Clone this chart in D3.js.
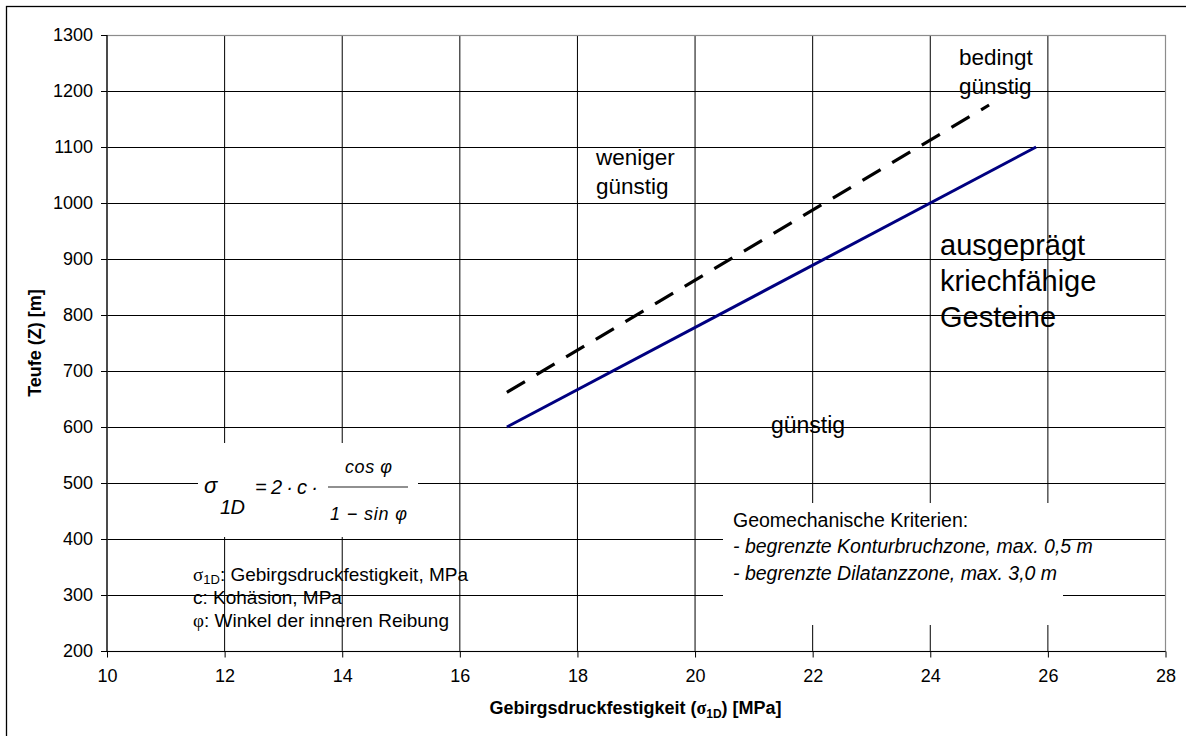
<!DOCTYPE html>
<html><head><meta charset="utf-8">
<script src="https://cdn.jsdelivr.net/npm/d3@7"></script>
<style>
body{margin:0;background:#fff}
svg{display:block}
text{font-family:"Liberation Sans",Arial,sans-serif;fill:#000}
</style>
</head><body>
<svg id="chart" width="1186" height="736"></svg>
<script>
// ---- data ----
const xTicks = [10, 12, 14, 16, 18, 20, 22, 24, 26, 28];
const yTicks = [200, 300, 400, 500, 600, 700, 800, 900, 1000, 1100, 1200, 1300];
const solidX = [16.8, 25.8];
const solidY = [600, 1100];
const dashX = [16.8, 25.0];
const dashY = [662, 1175];
const xTitle = ["Gebirgsdruckfestigkeit (", "σ", "1D", ") [MPa]"];
const yTitle = "Teufe (Z) [m]";
const labelWeniger = ["weniger", "günstig"];
const labelBedingt = ["bedingt", "günstig"];
const labelGuenstig = "günstig";
const labelKriech = ["ausgeprägt", "kriechfähige", "Gesteine"];
const critLines = ["Geomechanische Kriterien:", "- begrenzte Konturbruchzone, max. 0,5 m", "- begrenzte Dilatanzzone, max. 3,0 m"];
const legendLines = [["σ", "1D", ": Gebirgsdruckfestigkeit, MPa"], ["", "", "c: Kohäsion, MPa"], ["φ", "", ": Winkel der inneren Reibung"]];

// ---- setup ----
const svg = d3.select("#chart");
const x = d3.scaleLinear().domain([10, 28]).range([107, 1165.5]);
const y = d3.scaleLinear().domain([200, 1300]).range([651, 35]);
const L = x.range()[0], R = x.range()[1], T = y.range()[1], B = y.range()[0];

// outer border (only left/top visible)
svg.append("rect").attr("x", 6.5).attr("y", 6.5).attr("width", 1300).attr("height", 900)
  .attr("fill", "#fff").attr("stroke", "#000").attr("stroke-width", 1.3);

// gridlines
const g = svg.append("g");
g.selectAll("line.h").data(yTicks.filter(d => d !== 1300 && d !== 200)).join("line")
  .attr("x1", L).attr("x2", R)
  .attr("y1", d => Math.round(y(d)) + 0.5).attr("y2", d => Math.round(y(d)) + 0.5)
  .attr("stroke", "#000").attr("stroke-width", 1);
g.selectAll("line.v").data(xTicks.filter(d => d !== 10 && d !== 28)).join("line")
  .attr("y1", T).attr("y2", B)
  .attr("x1", d => x(d)).attr("x2", d => x(d))
  .attr("stroke", "#000").attr("stroke-width", 1);

// plot border (gray)
svg.append("rect").attr("x", L).attr("y", Math.round(T) + 0.5).attr("width", R - L).attr("height", B - T)
  .attr("fill", "none").attr("stroke", "#8c8c8c").attr("stroke-width", 1.2);

// white boxes covering gridlines
svg.append("rect").attr("x", 198).attr("y", 443).attr("width", 220).attr("height", 94).attr("fill", "#fff");
svg.append("rect").attr("x", 723).attr("y", 503).attr("width", 340).attr("height", 122).attr("fill", "#fff");

// data lines
const lineGen = d3.line().x(d => x(d[0])).y(d => y(d[1]));
svg.append("path").datum(solidX.map((v, i) => [v, solidY[i]]))
  .attr("d", lineGen).attr("fill", "none").attr("stroke", "#000080").attr("stroke-width", 3);
svg.append("path").datum(dashX.map((v, i) => [v, dashY[i]]))
  .attr("d", lineGen).attr("fill", "none").attr("stroke", "#000").attr("stroke-width", 3.2)
  .attr("stroke-dasharray", "21,13.5");

// axes
const yAxis = svg.append("g").attr("transform", `translate(${L},0)`)
  .call(d3.axisLeft(y).tickValues(yTicks).tickSize(6).tickPadding(8).tickFormat(d3.format("d")));
const xAxis = svg.append("g").attr("transform", `translate(0,${Math.round(B) + 0.5})`)
  .call(d3.axisBottom(x).tickValues(xTicks).tickSize(6).tickPadding(12).tickFormat(d3.format("d")));
[yAxis, xAxis].forEach(a => {
  a.select(".domain").attr("stroke", "#000").attr("stroke-width", 1.2);
  a.selectAll(".tick line").attr("stroke", "#000");
  a.selectAll(".tick text").attr("font-size", 18).attr("font-family", '"Liberation Sans",Arial,sans-serif').attr("fill", "#000");
});
xAxis.select(".domain").attr("d", `M${L},0H${R}`);
yAxis.select(".domain").attr("d", `M0,${B}V${T}`);

// axis titles
const xt = svg.append("text").attr("x", 635.5).attr("y", 714).attr("text-anchor", "middle")
  .attr("font-weight", "bold").attr("font-size", 18);
xt.append("tspan").text(xTitle[0]);
xt.append("tspan").text(xTitle[1]).attr("font-family", '"Liberation Serif",serif');
xt.append("tspan").text(xTitle[2]).attr("font-size", 12).attr("dy", 4);
xt.append("tspan").text(xTitle[3]).attr("dy", -4);

svg.append("text").attr("transform", "translate(41,343) rotate(-90)").attr("text-anchor", "middle")
  .attr("font-weight", "bold").attr("font-size", 18).text(yTitle);

// region labels
function block(lines, x0, y0, dy, size) {
  const t = svg.append("text").attr("font-size", size);
  lines.forEach((s, i) => t.append("tspan").attr("x", x0).attr("y", y0 + i * dy).text(s));
  return t;
}
block(labelWeniger, 596, 165, 28.5, 22.5);
block(labelBedingt, 959, 65, 29, 22.5);
block([labelGuenstig], 771, 433, 0, 23);
block(labelKriech, 940, 255, 36, 29);

// criteria box text
const ct = svg.append("text").attr("font-size", 19.5);
critLines.forEach((s, i) => ct.append("tspan").attr("x", 733).attr("y", 527 + i * 26.3)
  .attr("font-style", i === 0 ? "normal" : "italic").text(s));

// legend text bottom left
legendLines.forEach((parts, i) => {
  const t = svg.append("text").attr("x", 193).attr("y", 581 + i * 23).attr("font-size", 19);
  if (parts[0]) t.append("tspan").attr("font-family", '"Liberation Serif",serif').attr("font-size", 19).text(parts[0]);
  if (parts[1]) {
    t.append("tspan").attr("font-size", 13).attr("dy", 3).text(parts[1]);
    t.append("tspan").attr("dy", -3).text(parts[2]);
  } else t.append("tspan").text(parts[2]);
});

// formula
const ff = '"Liberation Serif","Times New Roman",serif';
const fg = svg.append("g");
function ftext(str, x0, y0, size, anchor, len) {
  const t = fg.append("text").attr("x", x0).attr("y", y0).attr("font-size", size)
    .attr("font-family", ff).attr("font-style", "italic").attr("fill", "#222")
    .attr("text-anchor", anchor || "start").text(str);
  if (len) t.attr("textLength", len).attr("lengthAdjust", "spacing");
  return t;
}
ftext("σ", 204, 493, 22);
ftext("1D", 220, 514, 20, "start", 25);
ftext("= 2 · c ·", 255, 494, 20, "start", 63);
fg.append("line").attr("x1", 328).attr("x2", 408).attr("y1", 487).attr("y2", 487).attr("stroke", "#222").attr("stroke-width", 1.2);
ftext("cos φ", 368.5, 473, 18, "middle", 47);
ftext("1 − sin φ", 368.5, 520, 18, "middle", 77);
</script>
</body></html>
